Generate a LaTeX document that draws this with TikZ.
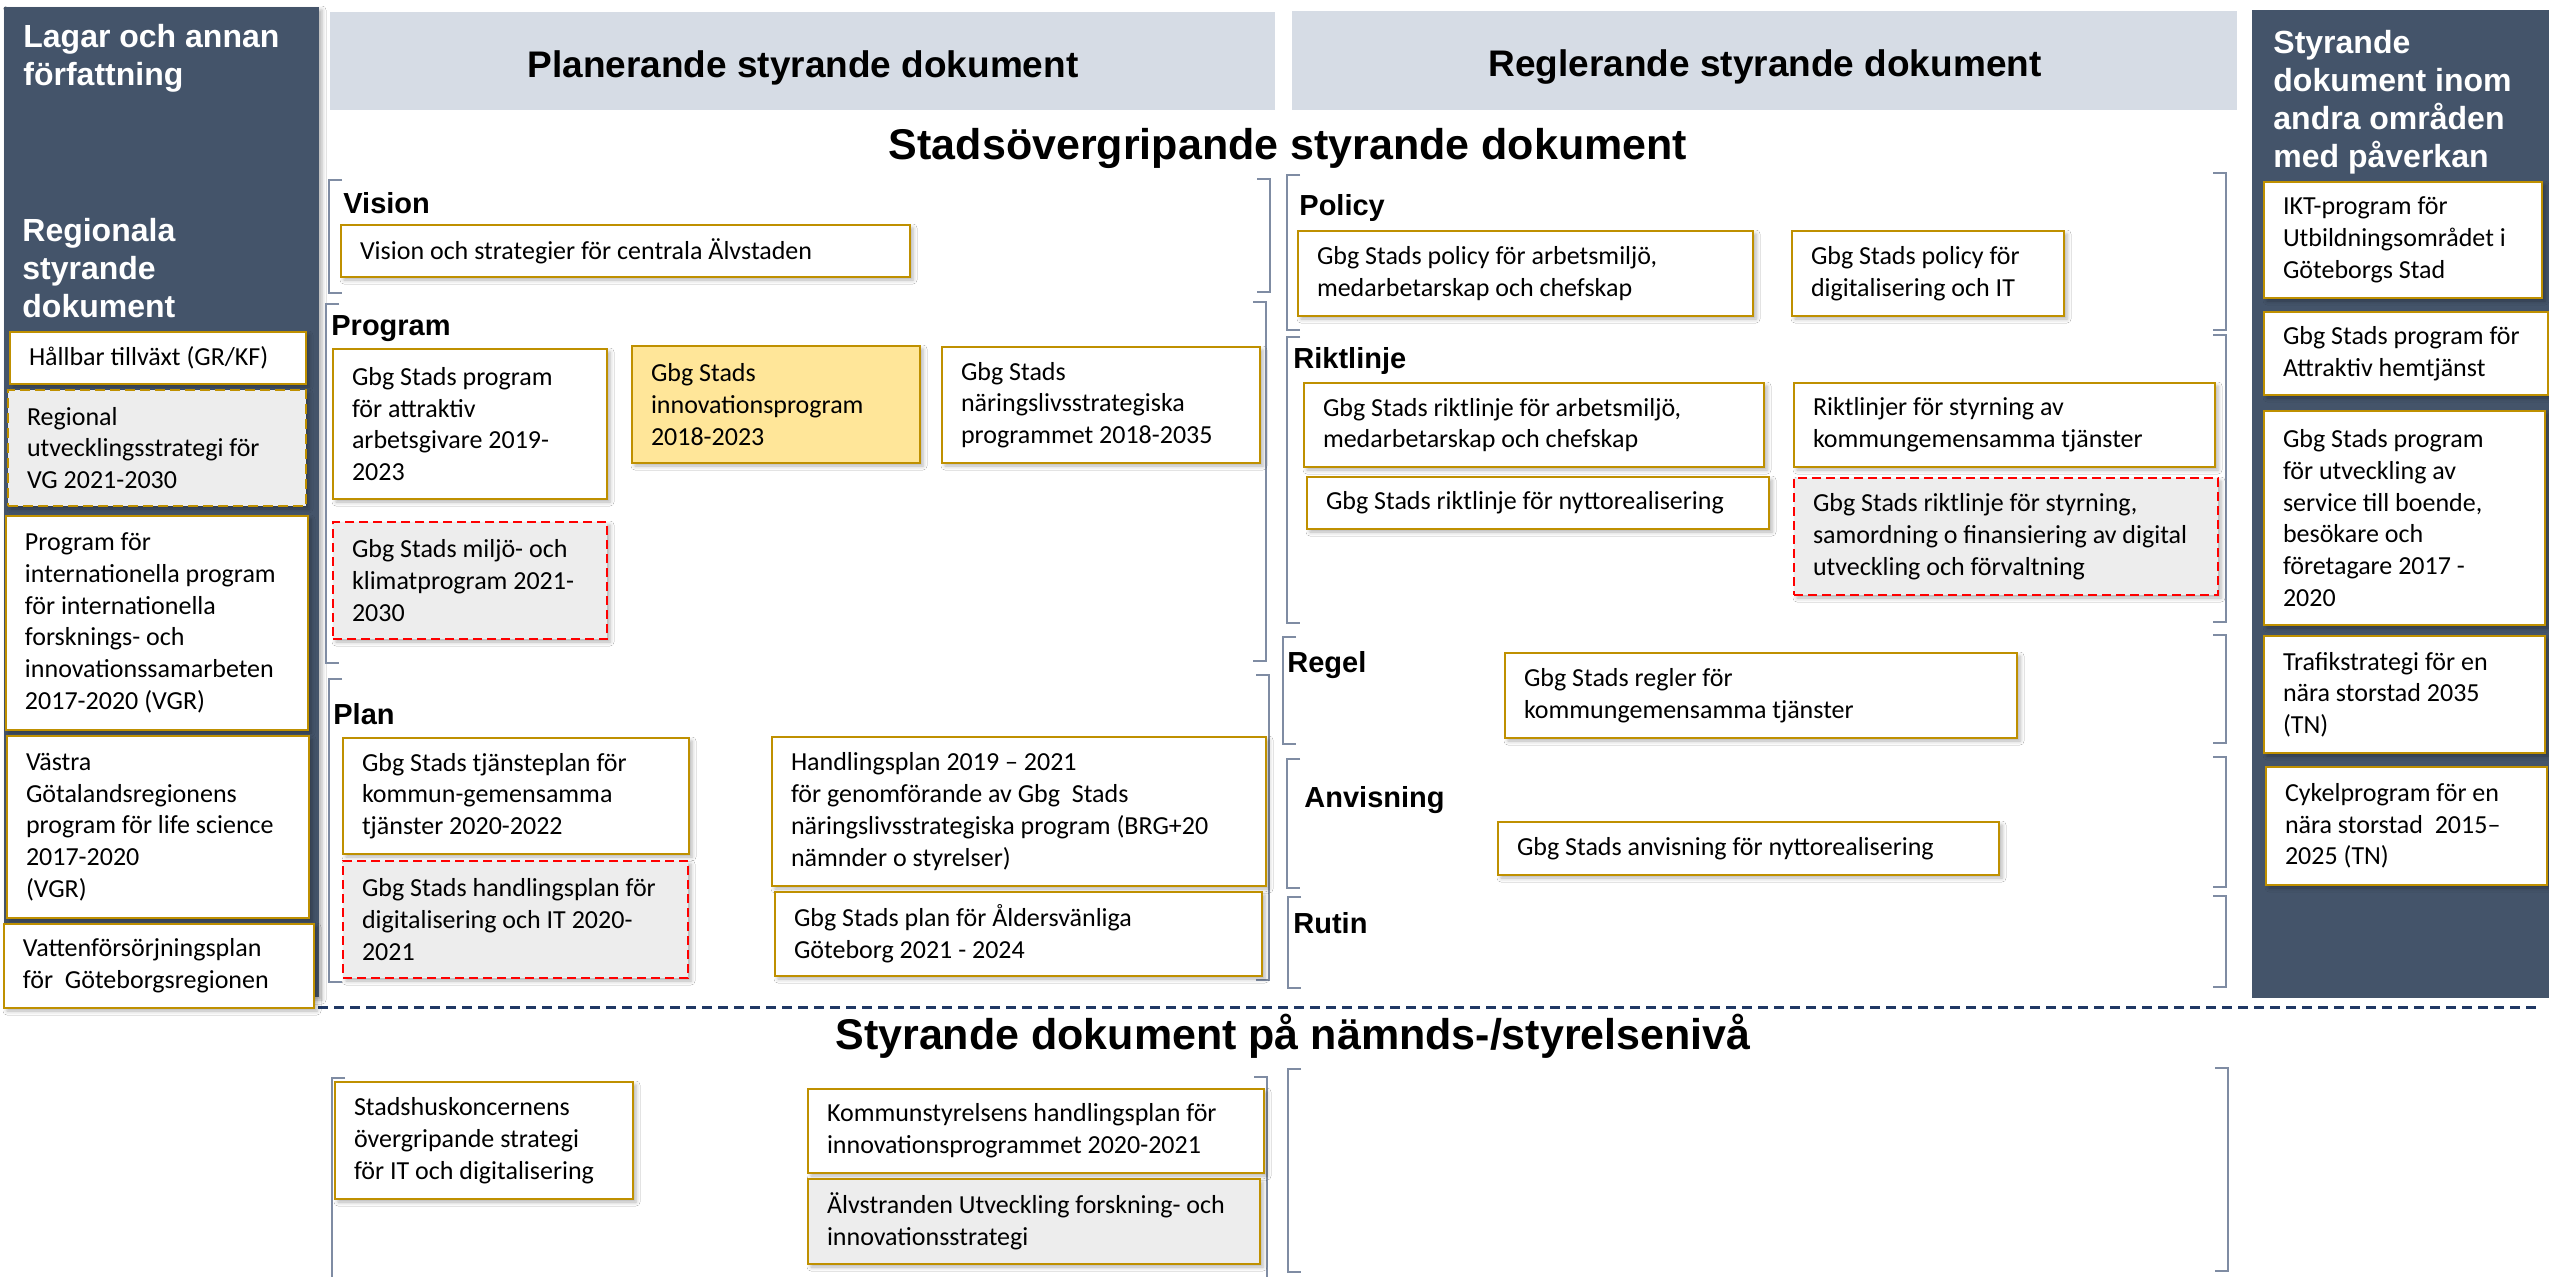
\documentclass[tikz,border=0pt]{standalone}
\usepackage{fontspec}
\setmainfont{Carlito}
\newfontfamily\hfont{Liberation Sans}
\usetikzlibrary{fit,shadows.blur}
\definecolor{gold}{HTML}{BF9000}
\definecolor{panel}{HTML}{44546A}
\definecolor{band}{HTML}{D6DCE5}
\definecolor{greyfill}{HTML}{EDEDED}
\definecolor{yell}{HTML}{FFE699}
\definecolor{brk}{HTML}{7F8CA3}
\definecolor{navy}{HTML}{203864}
\definecolor{dashred}{HTML}{FF0000}
\tikzset{
  doc/.style={draw=gold, line width=1.4pt, fill=white, inner sep=0pt,
    blur shadow={shadow xshift=1.5pt, shadow yshift=-1.5pt, shadow blur radius=2pt, shadow opacity=30}},
  docdash/.style={doc, dash pattern=on 5pt off 2.5pt, fill=greyfill},
  docred/.style={doc, draw=dashred, dash pattern=on 4.5pt off 2.5pt, fill=greyfill},
  docyel/.style={doc, fill=yell},
  docgrey/.style={doc, fill=greyfill},
  txt/.style={font=\fontsize{13}{15.85}\selectfont, inner sep=0pt, align=left, anchor=west},
  sect/.style={font=\hfont\bfseries\fontsize{14.5}{17}\selectfont, inner sep=0pt, anchor=base west},
  panelhead/.style={font=\hfont\bfseries\fontsize{16}{19}\selectfont, text=white, inner sep=0pt, anchor=base west, align=left},
  bandhead/.style={font=\hfont\bfseries\fontsize{18.5}{22}\selectfont, inner sep=0pt, anchor=base},
  title/.style={font=\hfont\bfseries\fontsize{21.5}{26}\selectfont, inner sep=0pt, anchor=base},
  brkline/.style={draw=brk, line width=0.8pt},
}
\newcommand\docbox[7]{%
  \node[#1, fit={(#3,#4) (#5,#6)}] (#2) {};
  \node[txt] (#2-t) at ([xshift=10pt]#2.west) {#7};}
\newcommand\brackets[6]{%
  \draw[brkline] (#1+13,#2) -- (#1,#2) -- (#1,#3) -- (#1+13,#3);
  \draw[brkline] (#4-13,#5) -- (#4,#5) -- (#4,#6) -- (#4-13,#6);}
\begin{document}
\begin{tikzpicture}[x=0.5pt,y=-0.5pt]
\useasboundingbox (0,0) rectangle (2549,1276);
\fill[white] (0,0) rectangle (2549,1276);
% side panels
\fill[panel, blur shadow={shadow xshift=1.5pt, shadow yshift=-1.5pt, shadow blur radius=2pt, shadow opacity=30}] (4,7) rectangle (319,997);
\fill[panel] (2252,10) rectangle (2549,998);
% bands
\fill[band] (330,12) rectangle (1275,110);
\fill[band] (1292,11) rectangle (2237,110);
\node[bandhead] (hplan) at (803,77) {Planerande styrande dokument};
\node[bandhead] (hregl) at (1765,76) {Reglerande styrande dokument};
\node[title] (t1) at (1288,159) {Stadsövergripande styrande dokument};
\node[title] (t2) at (1293,1049) {Styrande dokument på nämnds-/styrelsenivå};
% panel headings (base = baseline of last line)
\node[panelhead] (lh1) at (23,85) {Lagar och annan\\författning};
\node[panelhead] (lh2) at (22,317) {Regionala\\styrande\\dokument};
\node[panelhead] (rh1) at (2273,167) {Styrande\\dokument inom\\andra områden\\med påverkan};
% separator
\draw[navy, line width=1.5pt, dash pattern=on 5pt off 3pt] (318,1007) -- (2540,1007);
% brackets
\brackets{329}{180}{293}{1270}{179}{292}
\brackets{326}{304}{663}{1266}{302}{661}
\brackets{329}{679}{982}{1269}{675}{980}
\brackets{1287}{175}{330}{2226}{173}{330}
\brackets{1287}{337}{623}{2226}{335}{622}
\brackets{1283}{637}{744}{2226}{635}{743}
\brackets{1287}{759}{888}{2226}{757}{887}
\brackets{1288}{897}{988}{2226}{896}{987}
\brackets{332}{1078}{1290}{1267}{1077}{1290}
\brackets{1288}{1069}{1272}{2228}{1068}{1271}
% section labels
\node[sect] (sVision) at (343,213) {Vision};
\node[sect] (sProgram) at (331,335) {Program};
\node[sect] (sPlan) at (333,724) {Plan};
\node[sect] (sPolicy) at (1299,215) {Policy};
\node[sect] (sRikt) at (1293,368) {Riktlinje};
\node[sect] (sRegel) at (1287,672) {Regel};
\node[sect] (sAnv) at (1304,807) {Anvisning};
\node[sect] (sRutin) at (1293,933) {Rutin};
% left column
\docbox{doc}{L1}{10}{332}{306}{384}{Hållbar tillväxt (GR/KF)}
\docbox{docdash}{L2}{8}{390}{306}{506}{Regional\\utvecklingsstrategi för\\VG 2021-2030}
\docbox{doc}{L3}{6}{516}{308}{730}{Program för\\internationella program\\för internationella\\forsknings- och\\innovationssamarbeten\\2017-2020 (VGR)}
\docbox{doc}{L4}{7}{736}{309}{918}{Västra\\Götalandsregionens\\program för life science\\2017-2020\\(VGR)}
\docbox{doc}{L5}{4}{924}{314}{1008}{Vattenförsörjningsplan\\för\ \ Göteborgsregionen}
% planerande
\docbox{doc}{V1}{341}{225}{910}{277}{Vision och strategier för centrala Älvstaden}
\docbox{doc}{G1}{333}{349}{607}{499}{Gbg Stads program\\för attraktiv\\arbetsgivare 2019-\\2023}
\docbox{docyel}{G2}{632}{346}{920}{463}{Gbg Stads\\innovationsprogram\\2018-2023}
\docbox{doc}{G3}{942}{347}{1260}{463}{Gbg Stads\\näringslivsstrategiska\\programmet 2018-2035}
\docbox{docred}{G4}{333}{522}{607}{639}{Gbg Stads miljö- och\\klimatprogram 2021-\\2030}
\docbox{doc}{N1}{343}{738}{689}{854}{Gbg Stads tjänsteplan för\\kommun-gemensamma\\tjänster 2020-2022}
\docbox{docred}{N2}{343}{861}{688}{978}{Gbg Stads handlingsplan för\\digitalisering och IT 2020-\\2021}
\docbox{doc}{N3}{772}{737}{1266}{886}{Handlingsplan 2019 – 2021\\för genomförande av Gbg\ \ Stads\\näringslivsstrategiska program (BRG+20\\nämnder o styrelser)}
\docbox{doc}{N4}{775}{892}{1262}{976}{Gbg Stads plan för Åldersvänliga\\Göteborg 2021 - 2024}
% reglerande
\docbox{doc}{P1}{1298}{231}{1753}{316}{Gbg Stads policy för arbetsmiljö,\\medarbetarskap och chefskap}
\docbox{doc}{P2}{1792}{231}{2064}{316}{Gbg Stads policy för\\digitalisering och IT}
\docbox{doc}{R1}{1304}{383}{1764}{467}{Gbg Stads riktlinje för arbetsmiljö,\\medarbetarskap och chefskap}
\docbox{doc}{R2}{1794}{383}{2215}{467}{Riktlinjer för styrning av\\kommungemensamma tjänster}
\docbox{doc}{R3}{1307}{477}{1769}{529}{Gbg Stads riktlinje för nyttorealisering}
\docbox{docred}{R4}{1794}{478}{2218}{595}{Gbg Stads riktlinje för styrning,\\samordning o finansiering av digital\\utveckling och förvaltning}
\docbox{doc}{E1}{1505}{653}{2017}{738}{Gbg Stads regler för\\kommungemensamma tjänster}
\docbox{doc}{A1}{1498}{822}{1999}{875}{Gbg Stads anvisning för nyttorealisering}
% right column
\docbox{doc}{K1}{2264}{182}{2542}{298}{IKT-program för\\Utbildningsområdet i\\Göteborgs Stad}
\docbox{doc}{K2}{2264}{312}{2548}{395}{Gbg Stads program för\\Attraktiv hemtjänst}
\docbox{doc}{K3}{2264}{411}{2545}{625}{Gbg Stads program\\för utveckling av\\service till boende,\\besökare och\\företagare 2017 -\\2020}
\docbox{doc}{K4}{2264}{636}{2545}{753}{Trafikstrategi för en\\nära storstad 2035\\(TN)}
\docbox{doc}{K5}{2266}{767}{2547}{885}{Cykelprogram för en\\nära storstad\ \ 2015–\\2025 (TN)}
% bottom
\docbox{doc}{B1}{335}{1082}{633}{1199}{Stadshuskoncernens\\övergripande strategi\\för IT och digitalisering}
\docbox{doc}{B2}{808}{1089}{1264}{1173}{Kommunstyrelsens handlingsplan för\\innovationsprogrammet 2020-2021}
\docbox{docgrey}{B3}{808}{1179}{1260}{1264}{Älvstranden Utveckling forskning- och\\innovationsstrategi}
\end{tikzpicture}
\end{document}
